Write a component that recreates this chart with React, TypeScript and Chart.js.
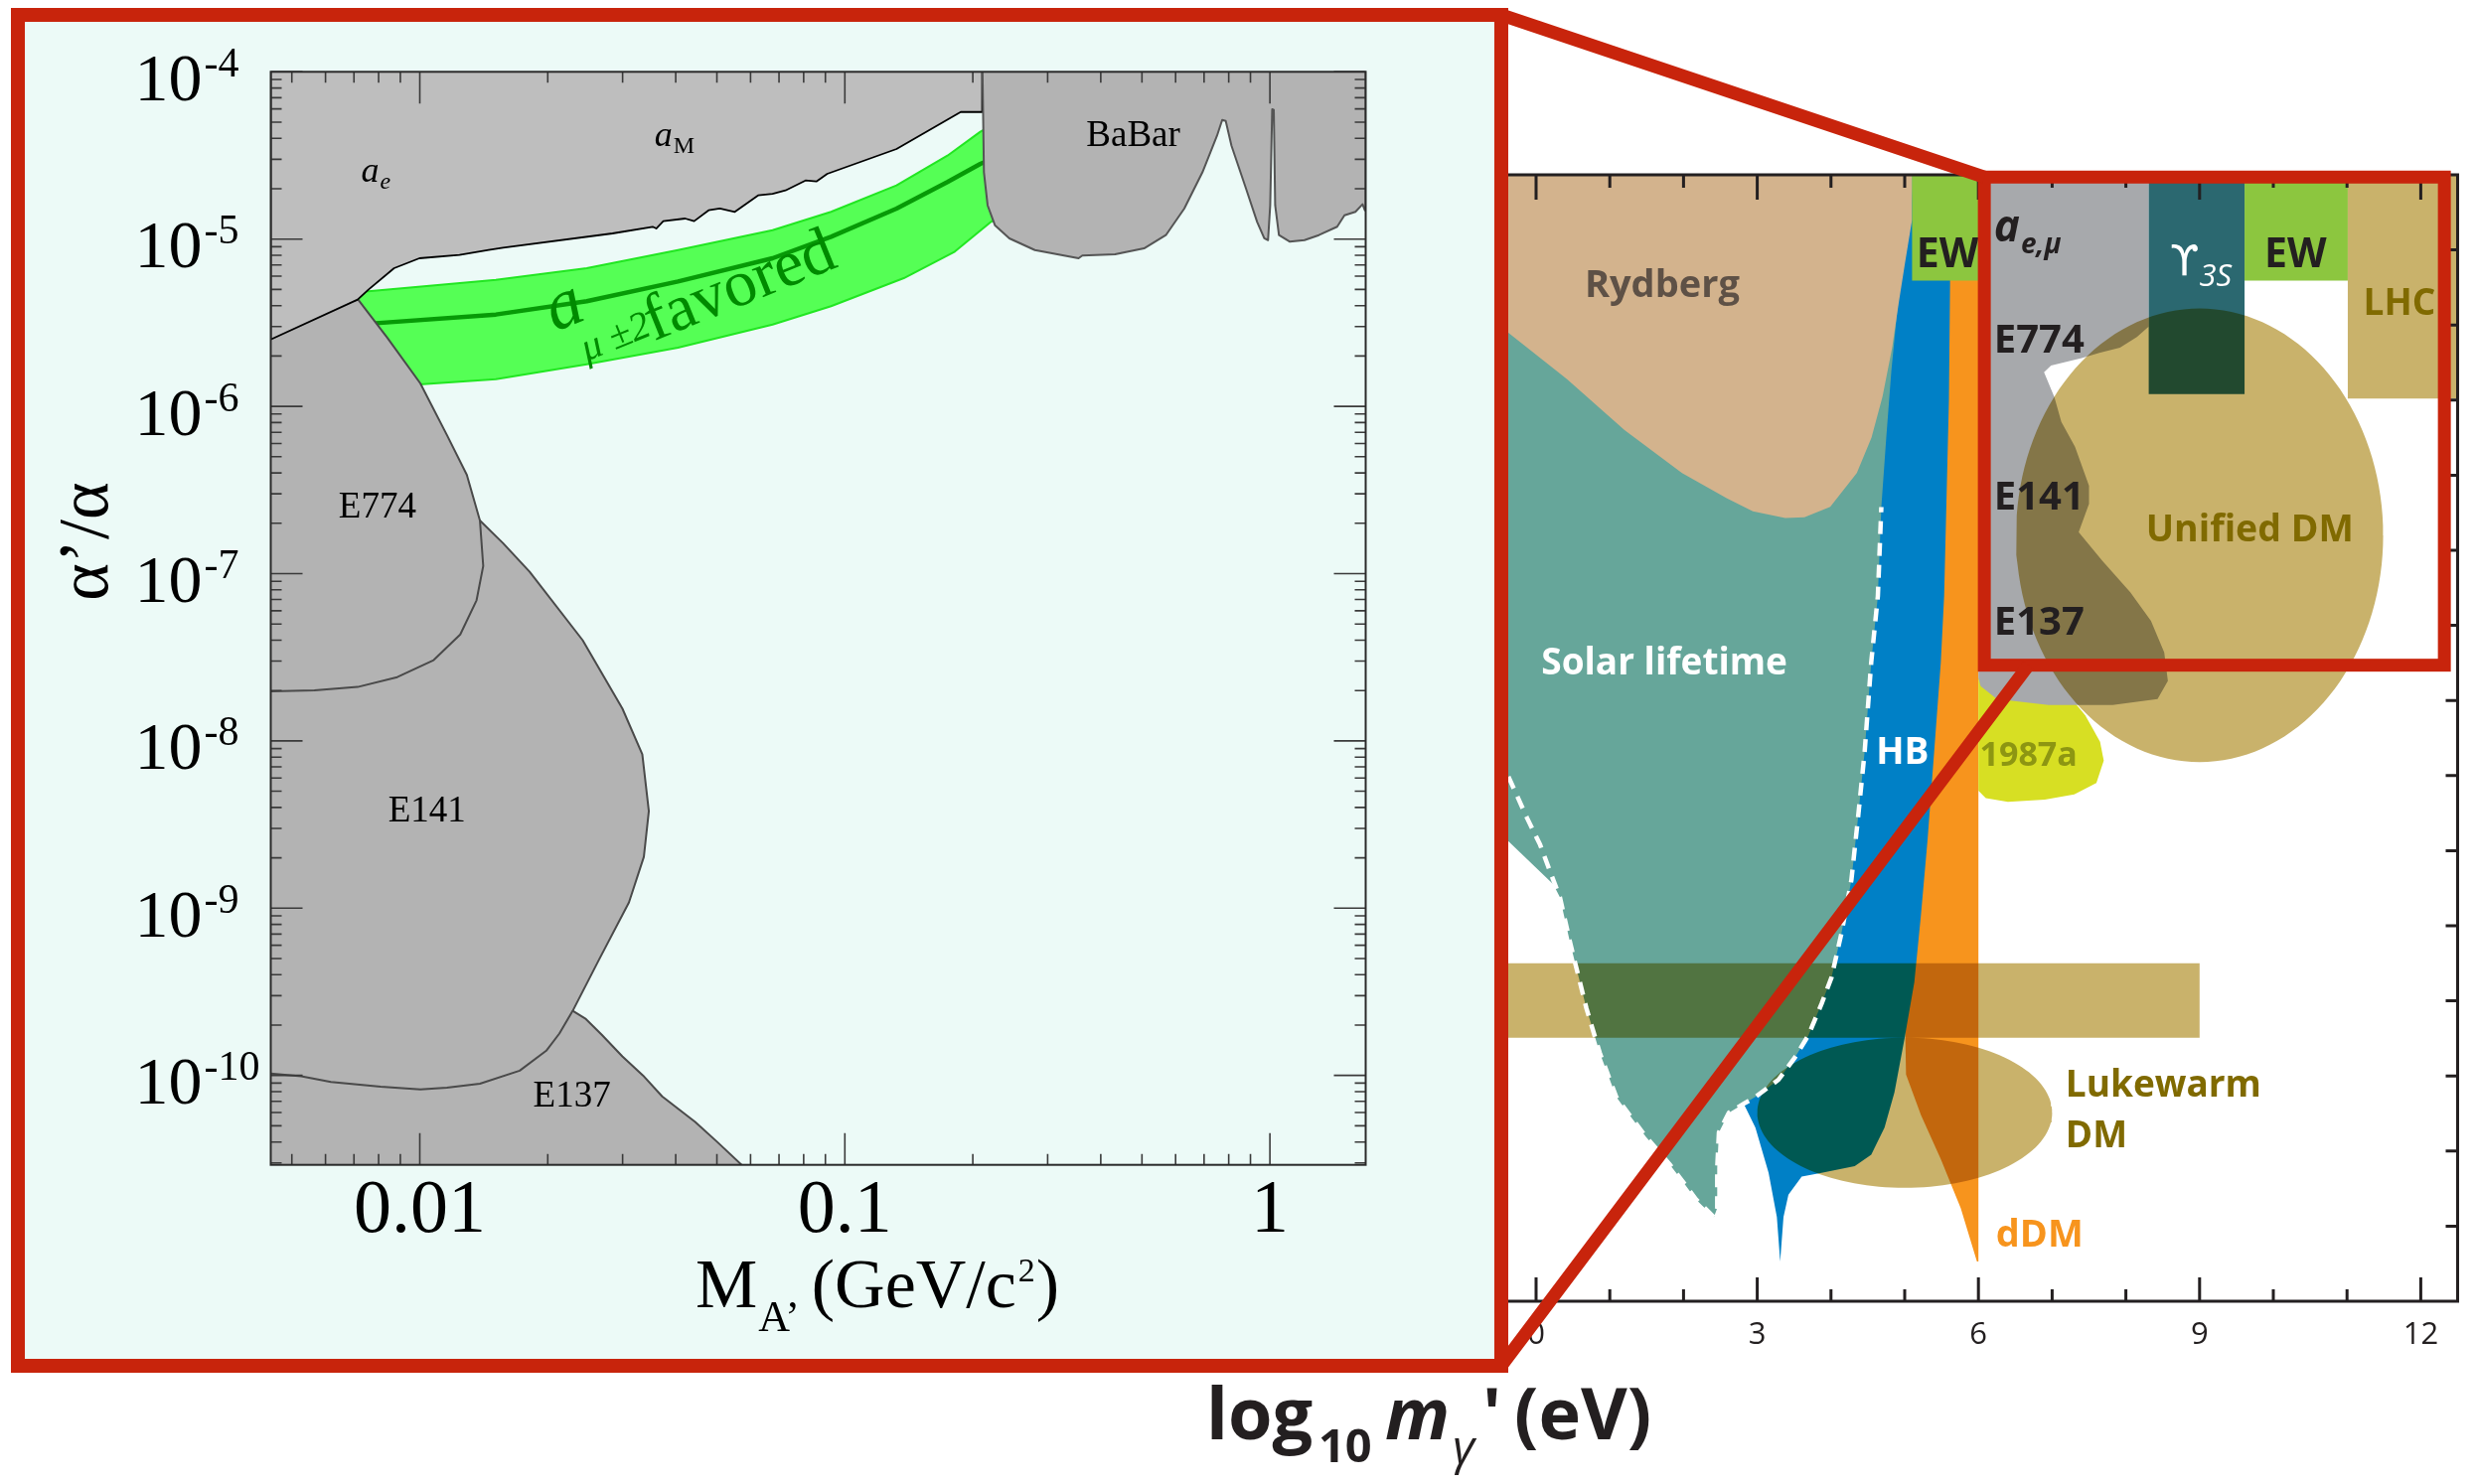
import React, { useEffect, useRef } from 'react';
import { Chart, registerables } from 'chart.js';

// ---------------------------------------------------------------------------
// Blend-mode plugin (registered before Filler so fills are composited too)
// ---------------------------------------------------------------------------
const blendPlugin = {
  id: 'blendMode',
  beforeDatasetDraw(chart: any, args: any) {
    const ds: any = chart.data.datasets[args.index];
    if (ds && ds.blend) {
      chart.ctx.save();
      chart.ctx.globalCompositeOperation = ds.blend;
    }
  },
  afterDatasetDraw(chart: any, args: any) {
    const ds: any = chart.data.datasets[args.index];
    if (ds && ds.blend) chart.ctx.restore();
  },
};
Chart.register(blendPlugin);
Chart.register(...registerables);

type P = [number, number];

// ===========================================================================
// LEFT PANEL  (alpha'/alpha vs M_A' in GeV/c^2, log-log)
// ===========================================================================
const L_X_MIN = 0.00446;
const L_X_MAX = 1.68;
const L_Y_MIN = 2.92e-11;
const L_Y_MAX = 1e-4;
const L_X_TICKS = [0.01, 0.1, 1];
const L_X_TICK_LABELS = ['0.01', '0.1', '1'];
const L_Y_TICK_EXPONENTS = [-4, -5, -6, -7, -8, -9, -10];

// a_e / a_M excluded region (light grey)
const AE_AM_REGION: P[] = [
  [0.2104, 1e-4], [0.2104, 5.75e-5], [0.1873, 5.75e-5], [0.1323, 3.456e-5],
  [0.0909, 2.455e-5], [0.0857, 2.21e-5], [0.0808, 2.24e-5], [0.0725, 1.954e-5],
  [0.0676, 1.867e-5], [0.0625, 1.825e-5], [0.0551, 1.455e-5], [0.0508, 1.522e-5],
  [0.0478, 1.486e-5], [0.0442, 1.28e-5], [0.0421, 1.327e-5], [0.0374, 1.28e-5],
  [0.036, 1.157e-5], [0.0353, 1.185e-5], [0.0284, 1.081e-5], [0.0157, 8.89e-6],
  [0.01452, 8.6e-6], [0.0124, 8.04e-6], [0.00998, 7.68e-6], [0.0087, 6.7e-6],
  [0.00757, 4.98e-6], [0.00714, 4.35e-6], [0.00446, 2.51e-6], [0.00446, 1e-4],
];

// a_mu +-2 sigma favoured band
const GREEN_UPPER: P[] = [
  [0.00446, 4.65e-6], [0.00757, 4.87e-6], [0.0151, 5.71e-6], [0.0247, 6.7e-6],
  [0.0405, 8.6e-6], [0.0676, 1.131e-5], [0.0928, 1.455e-5], [0.1323, 2.093e-5],
  [0.1743, 3.154e-5], [0.2083, 4.38e-5], [0.2357, 5.21e-5],
];
const GREEN_LOWER: P[] = [
  [0.2357, 1.42e-5], [0.2208, 1.268e-5], [0.1814, 8.42e-6], [0.1376, 5.84e-6],
  [0.0928, 3.97e-6], [0.0676, 3.085e-6], [0.0405, 2.244e-6], [0.0247, 1.786e-6],
  [0.0151, 1.455e-6], [0.01018, 1.358e-6], [0.00446, 1.185e-6],
];
const GREEN_CENTRAL: P[] = [
  [0.0076, 3.12e-6], [0.0151, 3.54e-6], [0.0247, 4.25e-6], [0.0405, 5.58e-6],
  [0.0676, 7.68e-6], [0.0928, 1.033e-5], [0.1323, 1.522e-5], [0.1743, 2.193e-5],
  [0.2083, 2.814e-5], [0.2357, 3.23e-5],
];

const E774_REGION: P[] = [
  [0.00446, 3.0e-6], [0.00716, 4.35e-6], [0.00839, 2.565e-6], [0.01003, 1.371e-6],
  [0.01158, 6.75e-7], [0.0129, 3.9e-7], [0.01385, 2.08e-7], [0.0141, 1.111e-7],
  [0.0136, 6.93e-8], [0.01245, 4.33e-8], [0.01078, 3.04e-8], [0.00885, 2.405e-8],
  [0.00714, 2.1e-8], [0.00565, 2.005e-8], [0.00446, 1.98e-8],
];
const E141_REGION: P[] = [
  [0.00446, 2.5e-8], [0.012, 1.5e-7], [0.01385, 2.08e-7], [0.0157, 1.519e-7],
  [0.01813, 1.026e-7], [0.02416, 4.0e-8], [0.02996, 1.562e-8], [0.03338, 8.32e-9],
  [0.03458, 3.8e-9], [0.03366, 2.028e-9], [0.03105, 1.082e-9], [0.02642, 4.94e-10],
  [0.0229, 2.435e-10], [0.0213, 1.78e-10], [0.01984, 1.405e-10], [0.01718, 1.068e-10],
  [0.01385, 8.93e-11], [0.01158, 8.45e-11], [0.01003, 8.25e-11], [0.00809, 8.57e-11],
  [0.00618, 9.14e-11], [0.00526, 9.88e-11], [0.00446, 1.028e-10],
];
const E137_REGION: P[] = [
  [0.00446, 5e-10], [0.02, 5e-10], [0.0229, 2.435e-10], [0.0246, 2.172e-10],
  [0.0268, 1.75e-10], [0.02996, 1.3e-10], [0.0335, 1.0e-10], [0.03716, 7.5e-11],
  [0.04445, 5.27e-11], [0.05016, 3.99e-11], [0.05733, 2.9e-11], [0.00446, 2.9e-11],
];
const BABAR_REGION: P[] = [
  [0.2108, 1e-4], [0.2124, 2.513e-5], [0.2167, 1.591e-5], [0.2254, 1.211e-5],
  [0.2438, 1.01e-5], [0.2799, 8.6e-6], [0.3547, 7.68e-6], [0.362, 7.97e-6],
  [0.4322, 8.11e-6], [0.5057, 8.8e-6], [0.5692, 1.056e-5], [0.6288, 1.522e-5],
  [0.6941, 2.513e-5], [0.7507, 4.145e-5], [0.7722, 5.16e-5], [0.7871, 5.09e-5],
  [0.8121, 3.615e-5], [0.8788, 2.0e-5], [0.933, 1.268e-5], [0.9699, 1.01e-5],
  [0.9899, 9.86e-6], [1.0016, 1.591e-5], [1.0125, 5.97e-5], [1.0212, 5.91e-5],
  [1.0289, 1.591e-5], [1.0502, 1.056e-5], [1.1143, 9.65e-6], [1.2059, 9.86e-6],
  [1.3039, 1.056e-5], [1.4394, 1.185e-5], [1.4976, 1.388e-5], [1.5893, 1.455e-5],
  [1.6519, 1.614e-5], [1.6725, 1.487e-5], [1.68, 1.487e-5], [1.68, 1e-4],
];

// text annotations of the left panel (data coordinates)
const L_LABELS = [
  { text: 'E774', x: 0.00795, y: 2.17e-7 },
  { text: 'E141', x: 0.0104, y: 3.3e-9 },
  { text: 'E137', x: 0.0228, y: 6.52e-11 },
  { text: 'BaBar', x: 0.4769, y: 3.615e-5 },
];
const L_SUB_LABELS = [
  { main: 'a', sub: 'e', subItalic: true, x: 0.00728, y: 2.2e-5 },
  { main: 'a', sub: 'M', subItalic: false, x: 0.03565, y: 3.615e-5 },
];
const L_GREEN_LABEL = [
  { text: 'a', x: 0.0208, y: 2.78e-6, size: 72, italic: true },
  { text: 'μ ±2', x: 0.0247, y: 1.86e-6, size: 40, italic: true },
  { text: 'favored', x: 0.0355, y: 2.45e-6, size: 66, italic: false },
];

// ===========================================================================
// RIGHT PANEL  (overview, x = log10 m [eV])
// ===========================================================================
const R_X_MIN = -1;
const R_X_MAX = 12.5;
const R_Y_MIN = -15;
const R_Y_MAX = 0;
const R_X_TICK_LABELS = [0, 3, 6, 9, 12];

const RYDBERG: P[] = [
  [-1, 0], [5.1, 0], [5.1, -0.6], [5.0, -1.2], [4.92, -1.7], [4.83, -2.3], [4.7, -2.95],
  [4.55, -3.5], [4.35, -3.97], [3.99, -4.42], [3.64, -4.56], [3.38, -4.57], [2.94, -4.48],
  [2.59, -4.31], [1.98, -3.97], [1.2, -3.4], [0.42, -2.72], [-0.38, -2.1], [-1, -1.62],
];
const SOLAR_LIFETIME: P[] = [
  [-1, 0], [5.12, 0], [5.08, -0.6], [5.0, -1.0], [4.9, -1.8], [4.82, -2.6], [4.75, -3.5],
  [4.683, -4.425], [4.636, -5.61], [4.546, -6.49], [4.457, -7.68], [4.367, -8.56],
  [4.277, -9.39], [4.142, -10.1], [4.007, -10.69], [3.872, -11.04], [3.693, -11.46],
  [3.513, -11.75], [3.288, -12.05], [2.975, -12.28], [2.817, -12.37], [2.615, -12.49],
  [2.48, -12.75], [2.457, -13.23], [2.457, -13.76], [2.412, -13.88], [2.165, -13.64],
  [1.985, -13.4], [1.806, -13.17], [1.49, -12.81], [1.267, -12.52], [1.087, -12.28],
  [0.863, -11.69], [0.683, -11.1], [0.458, -10.21], [0.323, -9.62], [0.233, -9.447],
  [-0.395, -8.856], [-1, -8.29],
];
const HB: P[] = [
  [4.9, 0], [5.63, 0], [5.6, -3.0], [5.535, -5.61], [5.49, -6.49], [5.4, -7.68],
  [5.31, -8.86], [5.22, -9.86], [5.131, -10.75], [4.996, -11.51], [4.861, -12.22],
  [4.726, -12.69], [4.546, -13.05], [4.322, -13.2], [3.872, -13.29], [3.603, -13.34],
  [3.423, -13.58], [3.356, -13.88], [3.311, -14.47], [3.266, -13.88], [3.154, -13.29],
  [2.975, -12.69], [2.817, -12.37], [4.0, -10.0], [4.5, -5.0],
];
const DDM: P[] = [
  [5.5, 0], [6.0, 0], [6.0, -14.47], [5.98, -14.47], [5.76, -13.76], [5.49, -13.11],
  [5.22, -12.52], [5.018, -11.98], [5.0, -11.0], [5.3, -5.0],
];
const EW_LOW: P[] = [[5.1, 0], [6.0, 0], [6.0, -1.41], [5.1, -1.41]];
const EW_HIGH: P[] = [[9.61, 0], [11.01, 0], [11.01, -1.41], [9.61, -1.41]];
const UPSILON_3S: P[] = [[8.31, 0], [9.61, 0], [9.61, -2.92], [8.31, -2.92]];
const LHC: P[] = [[11.01, 0], [12.5, 0], [12.5, -2.98], [11.01, -2.98]];
const A_E_MU: P[] = [
  [6.0, 0], [8.31, 0], [8.31, -2.02], [8.15, -2.16], [7.92, -2.3], [7.64, -2.37],
  [7.4, -2.44], [6.985, -2.54], [6.89, -2.63], [7.03, -2.96], [7.125, -3.29],
  [7.31, -3.62], [7.5, -4.14], [7.5, -4.38], [7.36, -4.76], [7.68, -5.14], [8.06, -5.56],
  [8.34, -5.94], [8.52, -6.36], [8.57, -6.74], [8.43, -6.98], [7.82, -7.06],
  [6.95, -7.06], [6.25, -6.98], [6.03, -6.81], [6.0, -6.7],
];
const SN1987A: P[] = [
  [6.0, -6.7], [7.2, -6.9], [7.45, -7.2], [7.65, -7.55], [7.7, -7.8], [7.6, -8.1],
  [7.3, -8.25], [6.9, -8.32], [6.4, -8.35], [6.1, -8.3], [6.0, -8.2],
];
const DM_BAND: P[] = [[-1, -10.5], [9.0, -10.5], [9.0, -11.49], [-1, -11.49]];
// ellipses: [centre x, centre y, radius x, radius y]
const LUKEWARM_ELLIPSE = [5.0, -12.49, 2.0, 1.0];
const UNIFIED_ELLIPSE = [9.0, -4.8, 2.49, 3.02];
const DASHED_BOUNDARY: P[] = [
  [-0.5, -7.75], [-0.395, -7.97], [-0.125, -8.56], [0.054, -8.92], [0.233, -9.39],
  [0.323, -9.62], [0.458, -10.21], [0.683, -11.1], [0.863, -11.69], [1.087, -12.28],
  [1.267, -12.52], [1.49, -12.81], [1.806, -13.17], [1.985, -13.4], [2.165, -13.64],
  [2.412, -13.88], [2.457, -13.76], [2.457, -13.23], [2.48, -12.75], [2.615, -12.49],
  [2.817, -12.37], [2.975, -12.28], [3.288, -12.05], [3.513, -11.75], [3.693, -11.46],
  [3.872, -11.04], [4.007, -10.69], [4.142, -10.1], [4.277, -9.39], [4.367, -8.56],
  [4.457, -7.68], [4.546, -6.49], [4.636, -5.61], [4.683, -4.425],
];
// zoom box
const ZOOM_BOX_X = [6.08, 12.32];
const ZOOM_BOX_Y = [-6.53, -0.03];
const ZOOM_LINE_BOTTOM_X = 6.68;

const OLIVE = '#806a00';
const INK = '#231f20';
const R_LABELS = [
  { text: 'Rydberg', x: 1.71, y: -1.49, color: '#5e5146', align: 'center', size: 38 },
  { text: 'Solar lifetime', x: 1.74, y: -6.52, color: '#ffffff', align: 'center', size: 37 },
  { text: 'HB', x: 4.97, y: -7.7, color: '#ffffff', align: 'center', size: 37 },
  { text: 'dDM', x: 6.83, y: -14.13, color: '#f7941d', align: 'center', size: 38 },
  { text: 'Lukewarm', x: 7.18, y: -12.14, color: OLIVE, align: 'left', size: 37 },
  { text: 'DM', x: 7.18, y: -12.81, color: OLIVE, align: 'left', size: 37 },
  { text: 'EW', x: 5.58, y: -1.07, color: INK, align: 'center', size: 41 },
  { text: 'EW', x: 10.3, y: -1.07, color: INK, align: 'center', size: 41 },
  { text: 'E774', x: 6.21, y: -2.22, color: INK, align: 'left', size: 40 },
  { text: 'E141', x: 6.21, y: -4.31, color: INK, align: 'left', size: 40 },
  { text: 'E137', x: 6.21, y: -5.98, color: INK, align: 'left', size: 40 },
  { text: 'LHC', x: 11.71, y: -1.72, color: OLIVE, align: 'center', size: 37 },
  { text: 'Unified DM', x: 9.68, y: -4.74, color: OLIVE, align: 'center', size: 37.5 },
  { text: '1987a', x: 6.68, y: -7.74, color: '#8d9612', align: 'center', size: 34 },
];

// ===========================================================================
// helpers
// ===========================================================================
const SERIF = '"Liberation Serif", "Times New Roman", serif';
const SANS = '"Open Sans", "Noto Sans", sans-serif';
const MINT = '#ecfaf7';
const RED = '#c8240c';

function ellipsePoints(e: number[]): P[] {
  const [cx, cy, rx, ry] = e;
  const pts: P[] = [];
  for (let i = 0; i < 144; i++) {
    const t = (i / 144) * Math.PI * 2;
    pts.push([cx + rx * Math.cos(t), cy + ry * Math.sin(t)]);
  }
  return pts;
}

function region(label: string, pts: P[], o: any) {
  return {
    label,
    data: pts.map(([x, y]) => ({ x, y })),
    fill: o.fill === false ? false : 'shape',
    backgroundColor: o.bg || 'rgba(0,0,0,0)',
    borderColor: o.border || 'rgba(0,0,0,0)',
    borderWidth: o.bw || 0,
    borderDash: o.dash || [],
    borderJoinStyle: 'round',
    pointRadius: 0,
    pointHoverRadius: 0,
    tension: 0,
    blend: o.blend,
  };
}

function withOrder(list: any[]) {
  const n = list.length;
  return list.map((d, i) => ({ ...d, order: n - i }));
}

// ===========================================================================
// LEFT chart decoration plugin
// ===========================================================================
const leftDecor = {
  id: 'leftDecor',
  beforeDraw(chart: any) {
    const { ctx, width, height } = chart;
    ctx.save();
    ctx.fillStyle = MINT;
    ctx.fillRect(0, 0, width, height);
    ctx.restore();
  },
  afterDatasetsDraw(chart: any) {
    const { ctx, chartArea: a } = chart;
    const xs = chart.scales.x;
    const ys = chart.scales.y;
    ctx.save();
    // inward ticks on all four sides
    ctx.strokeStyle = '#3a3a3a';
    ctx.lineWidth = 1.6;
    ctx.beginPath();
    for (let e = -3; e <= 0; e++) {
      for (let m = 1; m <= 9; m++) {
        const v = m * Math.pow(10, e);
        if (v < L_X_MIN || v > L_X_MAX) continue;
        const px = xs.getPixelForValue(v);
        const len = m === 1 ? 32 : 11;
        ctx.moveTo(px, a.bottom);
        ctx.lineTo(px, a.bottom - len);
        ctx.moveTo(px, a.top);
        ctx.lineTo(px, a.top + len);
      }
    }
    for (let e = -11; e <= -4; e++) {
      for (let m = 1; m <= 9; m++) {
        const v = m * Math.pow(10, e);
        if (v < L_Y_MIN || v > L_Y_MAX * 1.0001) continue;
        const py = ys.getPixelForValue(v);
        const len = m === 1 ? 32 : 11;
        ctx.moveTo(a.left, py);
        ctx.lineTo(a.left + len, py);
        ctx.moveTo(a.right, py);
        ctx.lineTo(a.right - len, py);
      }
    }
    ctx.stroke();
    // frame
    ctx.strokeStyle = '#2a2a2a';
    ctx.lineWidth = 2;
    ctx.strokeRect(a.left, a.top, a.right - a.left, a.bottom - a.top);

    // y tick labels 10^-n
    ctx.fillStyle = '#000';
    ctx.textBaseline = 'alphabetic';
    ctx.textAlign = 'left';
    L_Y_TICK_EXPONENTS.forEach((exp) => {
      const py = ys.getPixelForValue(Math.pow(10, exp));
      ctx.font = `68px ${SERIF}`;
      const x0 = 124.5;
      ctx.fillText('10', x0, py + 28.5);
      const w = ctx.measureText('10').width;
      ctx.font = `42px ${SERIF}`;
      ctx.fillText('-' + String(-exp), x0 + w + 2, py + 4.5);
    });
    // x tick labels
    ctx.font = `76px ${SERIF}`;
    ctx.textAlign = 'center';
    L_X_TICKS.forEach((v, i) => {
      ctx.fillText(L_X_TICK_LABELS[i], xs.getPixelForValue(v), a.bottom + 67.5);
    });
    // x title  M_A' (GeV/c^2)
    ctx.textAlign = 'left';
    let tx = 689;
    const base = 1307.7;
    ctx.font = `70px ${SERIF}`;
    ctx.fillText('M', tx, base);
    tx += ctx.measureText('M').width + 1;
    ctx.font = `44px ${SERIF}`;
    ctx.fillText('A’', tx, base + 24);
    tx += ctx.measureText('A’').width + 12;
    ctx.font = `70px ${SERIF}`;
    ctx.fillText('(GeV/c', tx, base);
    tx += ctx.measureText('(GeV/c').width + 2;
    ctx.font = `34px ${SERIF}`;
    ctx.fillText('2', tx, base - 26);
    tx += ctx.measureText('2').width + 1;
    ctx.font = `70px ${SERIF}`;
    ctx.fillText(')', tx, base);
    // y title
    ctx.save();
    ctx.translate(97, 537);
    ctx.rotate(-Math.PI / 2);
    ctx.textAlign = 'center';
    ctx.font = `72px ${SERIF}`;
    ctx.fillText('α’/α', 0, 0);
    ctx.restore();

    // region labels
    ctx.font = `37px ${SERIF}`;
    ctx.textAlign = 'center';
    L_LABELS.forEach((l) => {
      ctx.fillText(l.text, xs.getPixelForValue(l.x), ys.getPixelForValue(l.y));
    });
    ctx.textAlign = 'left';
    L_SUB_LABELS.forEach((l) => {
      const px = xs.getPixelForValue(l.x);
      const py = ys.getPixelForValue(l.y);
      ctx.font = `italic 36px ${SERIF}`;
      ctx.fillText(l.main, px, py);
      const w = ctx.measureText(l.main).width;
      ctx.font = `${l.subItalic ? 'italic ' : ''}24px ${SERIF}`;
      ctx.fillText(l.sub, px + w + 1, py + 7);
    });
    // rotated green label
    ctx.fillStyle = '#008a00';
    L_GREEN_LABEL.forEach((l) => {
      ctx.save();
      ctx.translate(xs.getPixelForValue(l.x), ys.getPixelForValue(l.y));
      ctx.rotate((-22 * Math.PI) / 180);
      ctx.font = `${l.italic ? 'italic ' : ''}${l.size}px ${SERIF}`;
      ctx.fillText(l.text, 0, 0);
      ctx.restore();
    });
    ctx.restore();
  },
  afterDraw(chart: any) {
    const { ctx, width, height } = chart;
    ctx.save();
    ctx.strokeStyle = RED;
    ctx.lineWidth = 14;
    ctx.strokeRect(7, 7, width - 14, height - 14);
    ctx.restore();
  },
};

// ===========================================================================
// RIGHT chart decoration plugin
// ===========================================================================
const rightDecor = {
  id: 'rightDecor',
  beforeDraw(chart: any) {
    const { ctx, width, height } = chart;
    ctx.save();
    ctx.fillStyle = '#ffffff';
    ctx.fillRect(0, 0, width, height);
    ctx.restore();
  },
  afterDatasetsDraw(chart: any) {
    const { ctx, chartArea: a } = chart;
    const xs = chart.scales.x;
    const ys = chart.scales.y;
    ctx.save();
    ctx.strokeStyle = INK;
    ctx.lineWidth = 3;
    ctx.beginPath();
    for (let i = Math.ceil(R_X_MIN); i <= Math.floor(R_X_MAX); i++) {
      const px = xs.getPixelForValue(i);
      const long = i % 3 === 0;
      ctx.moveTo(px, a.bottom);
      ctx.lineTo(px, a.bottom - (long ? 24 : 12));
      ctx.moveTo(px, a.top);
      ctx.lineTo(px, a.top + (long ? 25 : 13));
    }
    for (let j = R_Y_MIN + 1; j < R_Y_MAX; j++) {
      const py = ys.getPixelForValue(j);
      ctx.moveTo(a.right, py);
      ctx.lineTo(a.right - 12, py);
    }
    ctx.stroke();
    ctx.beginPath();
    ctx.moveTo(a.left, a.top);
    ctx.lineTo(a.right, a.top);
    ctx.lineTo(a.right, a.bottom);
    ctx.lineTo(a.left, a.bottom);
    ctx.stroke();

    // tick labels
    ctx.fillStyle = INK;
    ctx.font = `31px ${SANS}`;
    ctx.textAlign = 'center';
    ctx.textBaseline = 'middle';
    R_X_TICK_LABELS.forEach((v) => {
      ctx.fillText(String(v), xs.getPixelForValue(v), a.bottom + 34);
    });

    // region labels
    R_LABELS.forEach((l) => {
      ctx.fillStyle = l.color;
      ctx.font = `700 ${l.size}px ${SANS}`;
      ctx.textAlign = l.align;
      ctx.textBaseline = 'middle';
      ctx.fillText(l.text, xs.getPixelForValue(l.x), ys.getPixelForValue(l.y));
    });
    // a_{e,mu}
    ctx.fillStyle = INK;
    ctx.textAlign = 'left';
    ctx.textBaseline = 'alphabetic';
    {
      const px = xs.getPixelForValue(6.21);
      const py = ys.getPixelForValue(-0.886);
      ctx.font = `italic 700 44px ${SANS}`;
      ctx.fillText('a', px, py);
      const w = ctx.measureText('a').width;
      ctx.font = `italic 700 28px ${SANS}`;
      ctx.fillText('e,μ', px + w + 1, py + 12);
    }
    // Upsilon(3S)
    ctx.fillStyle = '#ffffff';
    {
      const px = xs.getPixelForValue(8.6);
      const py = ys.getPixelForValue(-1.33);
      ctx.font = `42px "DejaVu Sans", ${SANS}`;
      ctx.fillText('ϒ', px, py);
      const w = ctx.measureText('ϒ').width;
      ctx.font = `italic 31px ${SANS}`;
      ctx.fillText('3S', px + w, py + 11);
    }
    ctx.restore();
  },
  afterDraw(chart: any) {
    const { ctx } = chart;
    const xs = chart.scales.x;
    const ys = chart.scales.y;
    ctx.save();
    // zoom box
    const x0 = xs.getPixelForValue(ZOOM_BOX_X[0]);
    const x1 = xs.getPixelForValue(ZOOM_BOX_X[1]);
    const y0 = ys.getPixelForValue(ZOOM_BOX_Y[1]);
    const y1 = ys.getPixelForValue(ZOOM_BOX_Y[0]);
    ctx.strokeStyle = RED;
    ctx.lineWidth = 13;
    ctx.strokeRect(x0, y0, x1 - x0, y1 - y0);
    // connecting lines from the inset frame
    ctx.beginPath();
    ctx.moveTo(1511, 15);
    ctx.lineTo(x0, y0);
    ctx.moveTo(1511, 1375);
    ctx.lineTo(xs.getPixelForValue(ZOOM_LINE_BOTTOM_X), y1);
    ctx.stroke();

    // x-axis title  log10 m_gamma' (eV)
    ctx.fillStyle = INK;
    ctx.textAlign = 'left';
    ctx.textBaseline = 'alphabetic';
    ctx.font = `700 72px ${SANS}`;
    ctx.fillText('log', 1214, 1449);
    ctx.font = `700 47px ${SANS}`;
    ctx.fillText('10', 1327, 1472);
    ctx.font = `italic 700 72px ${SANS}`;
    ctx.fillText('m', 1394, 1449);
    ctx.font = `italic 48px ${SANS}`;
    ctx.fillText('γ', 1462, 1474);
    ctx.font = `700 72px ${SANS}`;
    ctx.fillText('\'', 1492, 1449);
    ctx.fillText('(eV)', 1524, 1449);
    ctx.restore();
  },
};

// ===========================================================================
function leftConfig(): any {
  const greenPoly: P[] = [...GREEN_UPPER, ...GREEN_LOWER];
  const datasets = withOrder([
    region('a_mu favored band', greenPoly, { bg: '#55ff55', border: '#22e622', bw: 2 }),
    region('a_mu central', GREEN_CENTRAL, { fill: false, border: '#079a07', bw: 4.5 }),
    region('E137', E137_REGION, { bg: '#b3b3b3', border: '#4a4a4a', bw: 2 }),
    region('E141', E141_REGION, { bg: '#b3b3b3', border: '#4a4a4a', bw: 2 }),
    region('E774', E774_REGION, { bg: '#b3b3b3', border: '#4a4a4a', bw: 2 }),
    region('a_e / a_M', AE_AM_REGION, { bg: '#bebebe', border: '#000000', bw: 1.8 }),
    region('BaBar', BABAR_REGION, { bg: '#b3b3b3', border: '#555555', bw: 2 }),
  ]);
  return {
    type: 'line',
    data: { datasets },
    options: {
      animation: false,
      responsive: false,
      maintainAspectRatio: false,
      devicePixelRatio: 1,
      events: [],
      layout: { padding: { left: 261.5, top: 64.3, right: 143.5, bottom: 209.3 } },
      plugins: { legend: { display: false }, tooltip: { enabled: false } },
      scales: {
        x: { type: 'logarithmic', min: L_X_MIN, max: L_X_MAX, display: false },
        y: { type: 'logarithmic', min: L_Y_MIN, max: L_Y_MAX, display: false },
      },
    },
    plugins: [leftDecor],
  };
}

function rightConfig(): any {
  const datasets = withOrder([
    region('dDM', DDM, { bg: '#f7941d' }),
    region('HB', HB, { bg: '#0080c6' }),
    region('Solar lifetime', SOLAR_LIFETIME, { bg: '#66a69a' }),
    region('Rydberg', RYDBERG, { bg: '#d3b38d' }),
    region('EW (low)', EW_LOW, { bg: '#8cc63f' }),
    region('EW (high)', EW_HIGH, { bg: '#8cc63f' }),
    region('SN 1987a', SN1987A, { bg: '#d7df23' }),
    region('a_e,mu / beam dumps', A_E_MU, { bg: '#a7a9ac' }),
    region('Upsilon 3S', UPSILON_3S, { bg: '#2b6870' }),
    region('LHC', LHC, { bg: '#c9b26b' }),
    region('DM band', DM_BAND, { bg: '#c9b26b', blend: 'multiply' }),
    region('Lukewarm DM', ellipsePoints(LUKEWARM_ELLIPSE), { bg: '#c9b26b', blend: 'multiply' }),
    region('Unified DM', ellipsePoints(UNIFIED_ELLIPSE), { bg: '#c9b26b', blend: 'multiply' }),
    region('HB boundary', DASHED_BOUNDARY, { fill: false, border: '#ffffff', bw: 4.5, dash: [13, 9] }),
  ]);
  return {
    type: 'line',
    data: { datasets },
    options: {
      animation: false,
      responsive: false,
      maintainAspectRatio: false,
      devicePixelRatio: 1,
      events: [],
      layout: { padding: { left: 1471.8, top: 176, right: 19.5, bottom: 184 } },
      plugins: { legend: { display: false }, tooltip: { enabled: false } },
      scales: {
        x: { type: 'linear', min: R_X_MIN, max: R_X_MAX, display: false },
        y: { type: 'linear', min: R_Y_MIN, max: R_Y_MAX, display: false },
      },
    },
    plugins: [rightDecor],
  };
}

export default function App() {
  const leftRef = useRef<HTMLCanvasElement>(null);
  const rightRef = useRef<HTMLCanvasElement>(null);
  useEffect(() => {
    document.body.style.margin = '0';
    document.body.style.overflow = 'hidden';
    const r = new Chart(rightRef.current as HTMLCanvasElement, rightConfig());
    const l = new Chart(leftRef.current as HTMLCanvasElement, leftConfig());
    return () => {
      l.destroy();
      r.destroy();
    };
  }, []);
  return (
    <div style={{ position: 'absolute', left: 0, top: 0, width: 2493, height: 1494, background: '#ffffff', overflow: 'hidden' }}>
      <canvas
        ref={rightRef}
        width={2493}
        height={1494}
        style={{ position: 'absolute', left: 0, top: 0, width: 2493, height: 1494 }}
      />
      <canvas
        ref={leftRef}
        width={1507}
        height={1374}
        style={{ position: 'absolute', left: 11, top: 8, width: 1507, height: 1374 }}
      />
    </div>
  );
}
